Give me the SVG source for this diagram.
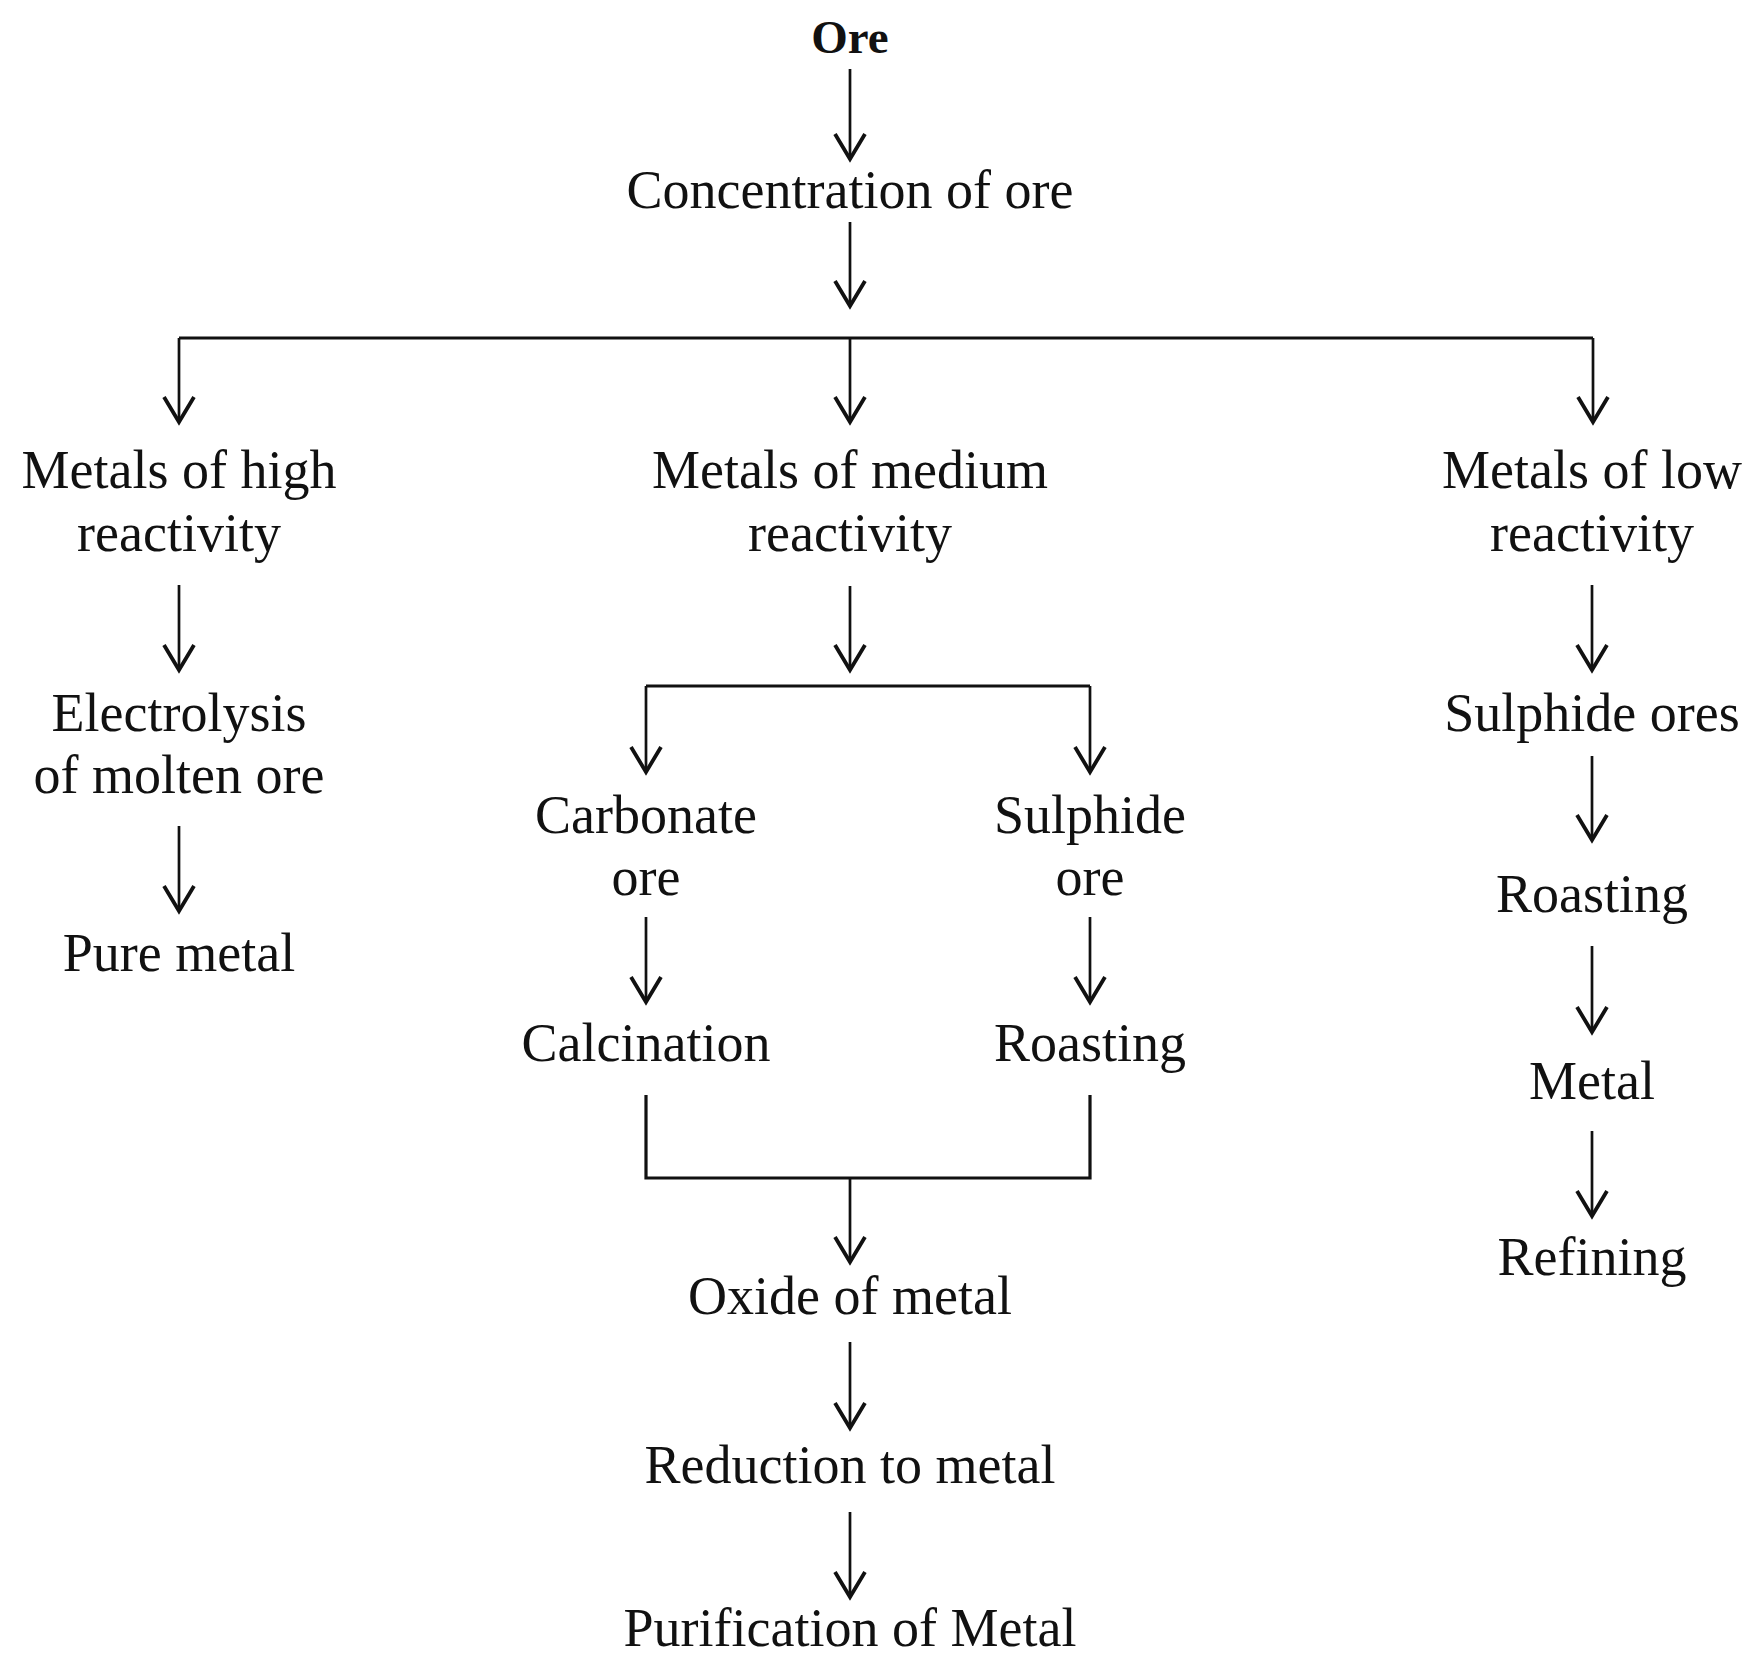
<svg xmlns="http://www.w3.org/2000/svg" width="1750" height="1660" viewBox="0 0 1750 1660">
<style>
text{font-family:"Liberation Serif","Times New Roman",serif;font-size:54px;fill:#111;text-anchor:middle}
.b{font-weight:bold;font-size:47px}
.c{fill:none;stroke:#111;stroke-width:2.7}
.bar{fill:none;stroke:#111;stroke-width:3.2}
</style>
<defs>
<marker id="ah" markerUnits="userSpaceOnUse" markerWidth="40" markerHeight="40" viewBox="-30 -20 34 40" refX="0" refY="0" orient="auto">
<path d="M-25,-15 L0,0 L-25,15" fill="none" stroke="#111" stroke-width="3.8" stroke-linejoin="miter"/>
</marker>
</defs>
<rect width="1750" height="1660" fill="#fff"/>
<g id="connectors">
<line class="c" x1="850" y1="69" x2="850" y2="159" marker-end="url(#ah)"/>
<line class="c" x1="850" y1="222" x2="850" y2="306" marker-end="url(#ah)"/>
<polyline class="bar" points="179,338 1593,338"/>
<line class="c" x1="179" y1="338" x2="179" y2="422" marker-end="url(#ah)"/>
<line class="c" x1="850" y1="338" x2="850" y2="422" marker-end="url(#ah)"/>
<line class="c" x1="1593" y1="338" x2="1593" y2="422" marker-end="url(#ah)"/>
<line class="c" x1="179" y1="585" x2="179" y2="670" marker-end="url(#ah)"/>
<line class="c" x1="179" y1="826" x2="179" y2="911" marker-end="url(#ah)"/>
<line class="c" x1="850" y1="586" x2="850" y2="670" marker-end="url(#ah)"/>
<polyline class="bar" points="646,686 1090,686"/>
<line class="c" x1="646" y1="686" x2="646" y2="772" marker-end="url(#ah)"/>
<line class="c" x1="1090" y1="686" x2="1090" y2="772" marker-end="url(#ah)"/>
<line class="c" x1="646" y1="917" x2="646" y2="1002" marker-end="url(#ah)"/>
<line class="c" x1="1090" y1="917" x2="1090" y2="1002" marker-end="url(#ah)"/>
<polyline class="bar" points="646,1095 646,1178 1090,1178 1090,1095"/>
<line class="c" x1="850" y1="1178" x2="850" y2="1262" marker-end="url(#ah)"/>
<line class="c" x1="850" y1="1342" x2="850" y2="1428" marker-end="url(#ah)"/>
<line class="c" x1="850" y1="1512" x2="850" y2="1597" marker-end="url(#ah)"/>
<line class="c" x1="1592" y1="585" x2="1592" y2="670" marker-end="url(#ah)"/>
<line class="c" x1="1592" y1="756" x2="1592" y2="840" marker-end="url(#ah)"/>
<line class="c" x1="1592" y1="946" x2="1592" y2="1032" marker-end="url(#ah)"/>
<line class="c" x1="1592" y1="1131" x2="1592" y2="1216" marker-end="url(#ah)"/>
</g>
<g id="n-ore"><text class="b" x="850" y="53">Ore</text></g>
<g id="n-conc"><text x="850" y="208">Concentration of ore</text></g>
<g id="n-high"><text x="179" y="488">Metals of high</text><text x="179" y="551">reactivity</text></g>
<g id="n-medium"><text x="850" y="488">Metals of medium</text><text x="850" y="551">reactivity</text></g>
<g id="n-low"><text x="1592" y="488">Metals of low</text><text x="1592" y="551">reactivity</text></g>
<g id="n-electro"><text x="179" y="731">Electrolysis</text><text x="179" y="793">of molten ore</text></g>
<g id="n-pure"><text x="179" y="971">Pure metal</text></g>
<g id="n-carb"><text x="646" y="833">Carbonate</text><text x="646" y="895">ore</text></g>
<g id="n-sulph"><text x="1090" y="833">Sulphide</text><text x="1090" y="895">ore</text></g>
<g id="n-calc"><text x="646" y="1061">Calcination</text></g>
<g id="n-roast1"><text x="1090" y="1061">Roasting</text></g>
<g id="n-oxide"><text x="850" y="1314">Oxide of metal</text></g>
<g id="n-reduct"><text x="850" y="1483">Reduction to metal</text></g>
<g id="n-purif"><text x="850" y="1646">Purification of Metal</text></g>
<g id="n-sulphores"><text x="1592" y="731">Sulphide ores</text></g>
<g id="n-roast2"><text x="1592" y="912">Roasting</text></g>
<g id="n-metal"><text x="1592" y="1099">Metal</text></g>
<g id="n-refin"><text x="1592" y="1275">Refining</text></g>
</svg>
